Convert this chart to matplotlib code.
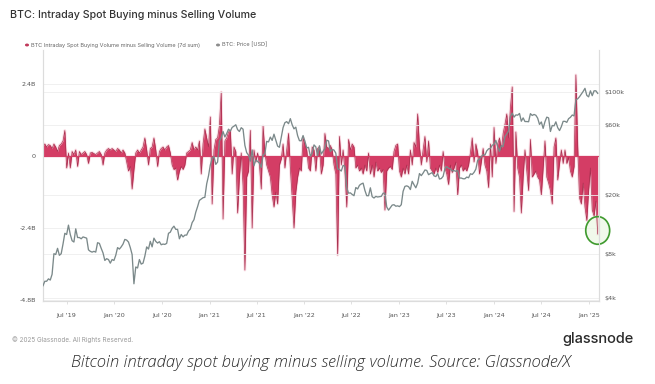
import matplotlib
matplotlib.use("Agg")
import matplotlib.pyplot as plt
import matplotlib.dates as mdates
from matplotlib.patches import Ellipse
import pandas as pd
import numpy as np

# ---------------- data ----------------
start_date = "2019-04-01"   # weekly samples (Mondays)

# BTC intraday spot buying minus selling volume, 7d sum, billions USD (weekly reading)
volume_b = [
    0.35, 0.4, 0.3, 0.38, 0.35, 0.25, 0.4, 0.3, 0.15, 0.35,
    0.4, 0.5, 0.85, -0.4, 0.1, -0.4, 0.15, 0.05, 0.2, -0.35,
    0.15, 0.05, 0.1, 0.15, 0.05, -0.25, 0.1, 0.12, 0.08, 0.05,
    0.1, 0.15, 0.05, -0.3, 0.1, 0.2, 0.25, 0.2, 0.25, 0.2,
    0.15, 0.25, 0.2, 0.1, 0.2, 0.1, -0.2, -0.5, -0.35, -1.1,
    -0.45, 0.1, 0.2, 0.1, 0.2, 0.3, 0.6, 0.2, -0.3, 0.25,
    0.3, 0.6, 0.2, -0.35, 0.15, 0.25, 0.3, 0.2, 0.3, 0.35,
    0.1, -0.3, -0.45, -0.4, -0.8, -0.5, -0.35, -0.45, -0.3,
    0.1, 0.15, 0.2, 0.45, 0.2, 0.3, 0.2, 0.5, -0.6, 0.4,
    0.9, 0.6, 0.3, 1.3, -1.6, 0.2, 0.55, 0.6, 1.0, 2.13,
    -2.1, 0.5, 0.6, 0.8, 0.85, -0.6, 0.3, 0.15, -1.9, -0.7,
    0.1, -1.0, -3.8, -0.7, -0.5, 0.85, -2.4, 0.2, -0.2, 0.1,
    -0.3, -1.1, 1.0, 0.1, -0.3, -0.5, -0.7, -1.3, -1.7, -1.2,
    -1.6, -0.3, -0.1, 0.4, -0.4, 0.2, 0.75, -0.4, -1.4, -2.4,
    -1.2, -0.7, -0.4, -0.5, 0.6, 0.4, 0.2, -0.4, -0.5, 0.3,
    0.2, -0.5, 0.25, 0.3, -0.6, -0.3, 0.75,
    0.3, 0.25, 0.35, 0.2, -0.3, -0.6, -3.3, 0.65, -0.3, 0.2,
    -0.5, -1.7, 0.55, 0.2, 0.4, 0.3, -0.4, -0.3, -0.5, -0.4,
    -0.6, -0.3, -0.5, 0.1, -0.6, -0.3, -0.7, -0.2, -0.5, -0.4,
    -0.55, -0.45, -1.8, -0.5, -0.4, -0.35, -0.45, 0.15, 0.35, 0.4,
    -0.5, -0.7, -0.4, -0.6, -0.3, -0.6, 0.2, -0.3, 0.45, 0.3,
    1.4, 0.3, -0.3, 0.2, 0.65, -0.2, 0.5, -0.4, -0.5, -0.6,
    -0.4, -0.55, -0.3, -0.5, 0.15, -0.4, -0.6, -0.95, -0.3, -0.55,
    -0.4, -0.2, -1.3, -0.4, -0.3, -0.5,
    -0.4, -0.5, -0.3, 0.1, 0.6, -0.2, 0.4, 0.1, -0.6, -0.2,
    0.25, -0.3, -0.5, -1.05, 0.4, -0.7, 0.95, -0.25, 0.4, 0.6,
    0.2, 0.75, 1.05, 1.4, 0.6, 1.6, 2.3, -1.85, 0.8, -0.4,
    -0.7, -1.9, -0.7, 0.2, -0.5, -1.15, 0.55, -0.7, -0.6, -0.5,
    -0.7, -0.8, -1.3, -0.4, 0.5, -0.7, -0.9, -1.15, -1.6, 0.3,
    0.6, -0.8, -0.25, 0.2, -0.25, 0.2, -0.25, -0.05, -0.5, -0.7,
    -0.35, 2.7, 0.3, -1.4, -1.6, -0.9, -1.7, -2.15, -1.15, -0.4,
    -1.8, -2.0, -1.5, -2.6,
]

# BTC price in USD (weekly reading)
price_usd = [
    # 2019
    4850, 5200, 5200, 5400, 5300, 5800, 8000, 7900, 8700, 7800,
    8000, 9300, 11000, 10800, 12500, 10800, 9800, 9600, 11800, 10300,
    10300, 10100, 10400, 10300, 10200, 8500, 8300, 8200, 8300, 8200,
    9500, 9400, 8700, 8100, 7200, 7400, 7300, 6900, 7300, 7200,
    # 2020
    7800, 8800, 8600, 8900, 9300, 10000, 9900, 9600, 8800, 7900,
    5000, 6500, 6400, 7300, 6800, 6900, 7700, 8900, 8600, 9700,
    8900, 10200, 9700, 9450, 9650, 9200, 9300, 9250, 9400, 11000,
    11200, 11900, 12300, 11700, 11700, 10100, 10800, 10400, 10700, 10700,
    11400, 11750, 13000, 13600, 15300, 16700, 18400, 18800, 19200, 19300,
    23800, 27000,
    # 2021
    32000, 35500, 36600, 32300, 33500, 46500, 49000, 54000, 49600, 52300,
    56000, 54300, 57600, 58700, 60000, 55600, 54000, 57300, 56000, 43500,
    38800, 37300, 34000, 40500, 31600, 34600, 33800, 33000, 30800, 37300,
    38200, 46300, 45900, 49500, 47000, 51800, 47100, 43000, 42200, 49100,
    57400, 62000, 63000, 61000, 66000, 60000, 56300, 57800, 50600, 46800,
    46700, 50700,
    # 2022
    46400, 41800, 42200, 36700, 38500, 43800, 42500, 37000, 43200, 38000,
    39700, 41300, 47100, 46600, 39500, 40800, 40400, 38500, 30100, 29800,
    29100, 31800, 31400, 22500, 20600, 20700, 20200, 19800, 22500, 22000,
    23300, 23800, 24100, 21500, 19800, 19800, 22400, 19500, 19100, 19600,
    19400, 19500, 19600, 20600, 20600, 16600, 15800, 16450, 17100, 17200,
    16800, 16900,
    # 2023
    16700, 17200, 21200, 22900, 23100, 22800, 21800, 24800, 23500, 22400,
    24100, 28000, 27100, 28200, 29600, 29400, 27500, 28000, 28400, 27000,
    26700, 28000, 25700, 25900, 26800, 30300, 31200, 30400, 30100, 29200,
    29300, 29000, 29400, 26100, 26100, 25800, 25800, 26500, 26200, 27900,
    27600, 28500, 30000, 34500, 35000, 36500, 37500, 37400, 39900, 41200,
    41400, 43600,
    # 2024
    44200, 47000, 42500, 39600, 43300, 42700, 49900, 52000, 54500, 68000,
    72000, 67600, 70000, 69700, 71600, 63400, 66800, 63100, 63100, 62900,
    71400, 69400, 70500, 69600, 66500, 60300, 62700, 56700, 62900, 67600,
    66800, 54000, 59300, 59000, 62800, 57400, 54800, 58200, 63300, 63300,
    62300, 66000, 67400, 69900, 68900, 88700, 90000, 93000, 97000, 101000,
    106000, 95000, 92800,
    # 2025
    102000, 94500, 102000, 102000, 98000,
]

left_ticks = [2.4, 0, -2.4, -4.8]
left_tick_labels = ["2.4B", "0", "-2.4B", "-4.8B"]
right_ticks = [4000, 8000, 20000, 60000, 100000]
right_tick_labels = ["$4k", "$8k", "$20k", "$60k", "$100k"]

title = "BTC: Intraday Spot Buying minus Selling Volume"
legend_vol = "BTC Intraday Spot Buying Volume minus Selling Volume (7d sum)"
legend_price = "BTC: Price [USD]"
footer = "\u00a9 2025 Glassnode. All Rights Reserved."
brand = "glassnode"
caption = "Bitcoin intraday spot buying minus selling volume. Source: Glassnode/X"

# ---------------- figure ----------------
W, H = 655, 384
fig = plt.figure(figsize=(W / 100, H / 100), dpi=100)
fig.patch.set_facecolor("white")

L, R, T, B = 43, 599, 50, 301
ax = fig.add_axes([L / W, 1 - B / H, (R - L) / W, (B - T) / H])

dates = pd.date_range(start_date, periods=len(volume_b), freq="7D")
vol = np.array(volume_b)
price = np.array(price_usd)

RED = "#d43d65"
RED_DARK = "#a8304f"
GRAY_LINE = "#7b898a"

ax.set_xlim(pd.Timestamp("2019-04-01"), pd.Timestamp("2025-02-08"))
ax.set_ylim(-4.83, 3.53)

# grid
for t in left_ticks:
    ax.axhline(t, color="#eeeeee", lw=0.6, zorder=0)

# glow + fill + outline
ax.plot(dates, vol, color="#f4b6c6", lw=2.0, alpha=0.45, zorder=1, solid_joinstyle="round")
ax.fill_between(dates, vol, 0, color=RED, lw=0, zorder=2)
ax.plot(dates, vol, color=RED_DARK, lw=0.5, zorder=3)
ax.axhline(0, color=RED, lw=0.9, zorder=3)

ax.set_yticks(left_ticks)
ax.set_yticklabels(left_tick_labels)

ax.xaxis.set_major_locator(mdates.MonthLocator(bymonth=[1, 7]))
ax.xaxis.set_major_formatter(mdates.DateFormatter("%b '%y"))

ax.spines["top"].set_visible(False)
for s in ["left", "right", "bottom"]:
    ax.spines[s].set_color("#dcdcdc")
    ax.spines[s].set_linewidth(0.8)

ax.tick_params(axis="y", length=0, pad=5, labelsize=4.6, labelcolor="#555555")
ax.tick_params(axis="x", length=2.5, width=0.6, color="#dcdcdc", pad=6,
               labelsize=4.6, labelcolor="#555555")

# price axis
ax2 = ax.twinx()
ax2.set_yscale("log")
ax2.set_ylim(3820, 193000)
ax2.plot(dates, price, color=GRAY_LINE, lw=0.95, zorder=4)
ax2.set_yticks(right_ticks)
ax2.set_yticklabels(right_tick_labels)
ax2.yaxis.set_minor_locator(matplotlib.ticker.NullLocator())
ax2.tick_params(axis="y", length=0, pad=4, labelsize=4.6, labelcolor="#555555")
ax2.spines["top"].set_visible(False)
for s in ["left", "right", "bottom"]:
    ax2.spines[s].set_color("#dcdcdc")
    ax2.spines[s].set_linewidth(0.8)
for t in right_ticks:
    ax2.axhline(t, color="#eeeeee", lw=0.6, zorder=0)

# green circle annotation around latest reading
last_x = mdates.date2num(dates[-1])
last_y = vol[-1]
ell_glow = Ellipse((last_x, last_y + 0.12), width=100, height=1.0,
                   facecolor="#e6f5dc", edgecolor="none", alpha=0.55,
                   zorder=2.5, clip_on=False, transform=ax.transData)
ax.add_patch(ell_glow)
ell = Ellipse((last_x, last_y + 0.12), width=92, height=0.92, angle=0,
              facecolor="none", edgecolor="#3f9a2f", lw=1.2,
              zorder=6, clip_on=False, transform=ax.transData)
ax.add_patch(ell)

# ---------------- texts ----------------
def ftxt(x, y, s, **kw):
    fig.text(x / W, 1 - y / H, s, **kw)

ftxt(10, 15, title, fontsize=7.7, color="#333333", va="center", ha="left",
     family="Inter", fontweight="medium")

# legend
fig.patches.append(matplotlib.patches.Circle((27 / W, 1 - 45 / H), 1.3 / W,
                   transform=fig.transFigure, color="#c0395b"))
ftxt(31, 45, legend_vol, fontsize=4.0, color="#666666", va="center", ha="left",
     family="Inter")
fig.patches.append(matplotlib.patches.Circle((218 / W, 1 - 45 / H), 1.3 / W,
                   transform=fig.transFigure, color="#8c8c8c"))
ftxt(222, 45, legend_price, fontsize=4.0, color="#666666", va="center", ha="left",
     family="Inter")

ftxt(12, 340, footer, fontsize=4.6, color="#9a9a9a", va="center", ha="left",
     family="Inter")
ftxt(634, 339, brand, fontsize=10.5, color="#2a2a2a", va="center", ha="right",
     family="Inter", fontweight="medium")
ftxt(321, 363, caption, fontsize=12.0, color="#2b2b2b", va="center", ha="center",
     family="Open Sans", style="italic", fontweight="light")

fig.savefig("out.png", dpi=100, facecolor="white")
